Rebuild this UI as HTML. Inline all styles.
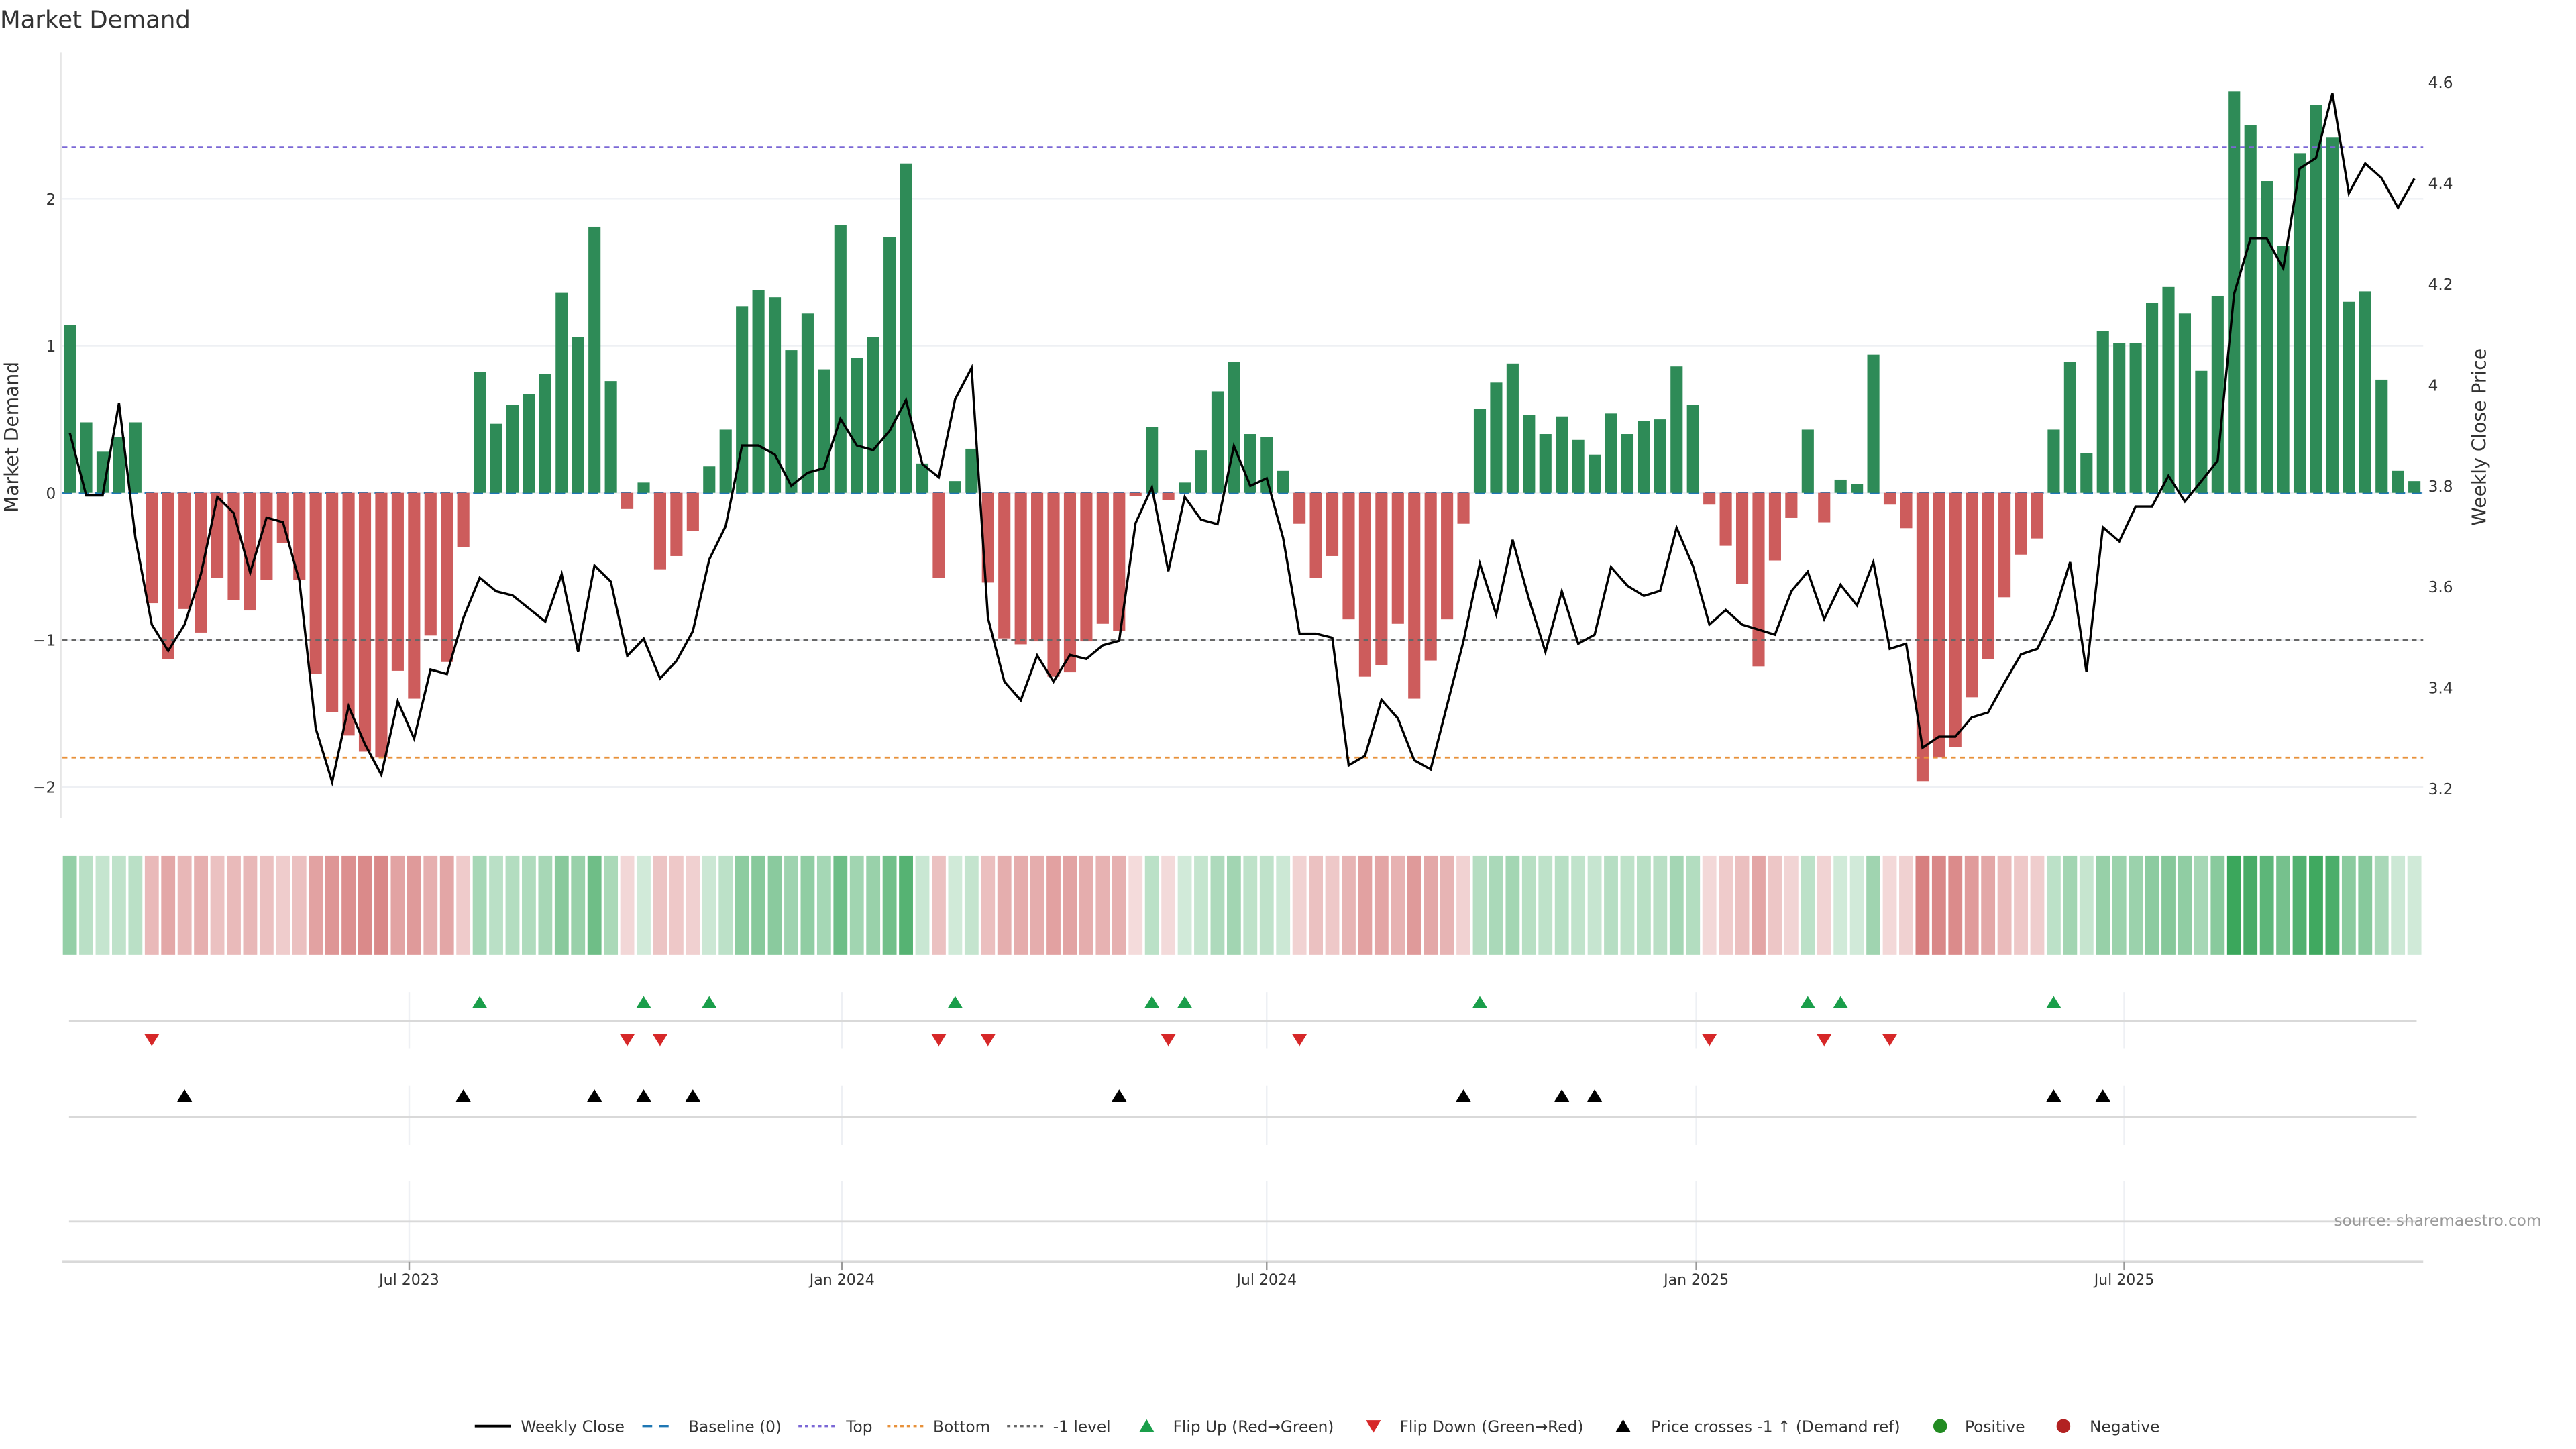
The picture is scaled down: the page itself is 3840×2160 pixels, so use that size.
<!DOCTYPE html>
<html><head><meta charset="utf-8"><title>Market Demand</title>
<style>
html,body{margin:0;padding:0;background:#fff;}
svg{display:block;font-family:"DejaVu Sans","Liberation Sans",sans-serif;}
</style></head>
<body>
<svg id="chart" xmlns="http://www.w3.org/2000/svg" width="3840" height="2160" viewBox="0 0 1568 882">
<rect x="0" y="0" width="1568" height="882" fill="#fff"/>
<text x="0" y="17" font-size="14.5" fill="#333">Market Demand</text>
<g id="main"></g>
<g id="heat"></g>
<g id="markers"></g>
<g id="xaxis"></g>
<text x="1547" y="746" font-size="9.5" fill="#999" text-anchor="end">source: sharemaestro.com</text>
<g id="legend"></g>
</svg>
<script>
const demand = [1.14,0.48,0.28,0.38,0.48,-0.75,-1.13,-0.79,-0.95,-0.58,-0.73,-0.80,-0.59,-0.34,-0.59,-1.23,-1.49,-1.65,-1.76,-1.80,-1.21,-1.40,-0.97,-1.15,-0.37,0.82,0.47,0.60,0.67,0.81,1.36,1.06,1.81,0.76,-0.11,0.07,-0.52,-0.43,-0.26,0.18,0.43,1.27,1.38,1.33,0.97,1.22,0.84,1.82,0.92,1.06,1.74,2.24,0.20,-0.58,0.08,0.30,-0.61,-0.99,-1.03,-1.01,-1.25,-1.22,-1.01,-0.89,-0.94,-0.02,0.45,-0.05,0.07,0.29,0.69,0.89,0.40,0.38,0.15,-0.21,-0.58,-0.43,-0.86,-1.25,-1.17,-0.89,-1.40,-1.14,-0.86,-0.21,0.57,0.75,0.88,0.53,0.40,0.52,0.36,0.26,0.54,0.40,0.49,0.50,0.86,0.60,-0.08,-0.36,-0.62,-1.18,-0.46,-0.17,0.43,-0.20,0.09,0.06,0.94,-0.08,-0.24,-1.96,-1.80,-1.73,-1.39,-1.13,-0.71,-0.42,-0.31,0.43,0.89,0.27,1.10,1.02,1.02,1.29,1.40,1.22,0.83,1.34,2.73,2.50,2.12,1.68,2.31,2.64,2.42,1.30,1.37,0.77,0.15,0.08];
const price = [3.905,3.781,3.781,3.964,3.697,3.525,3.473,3.525,3.626,3.778,3.746,3.628,3.737,3.728,3.612,3.319,3.213,3.363,3.288,3.227,3.373,3.299,3.436,3.427,3.538,3.618,3.591,3.583,3.557,3.531,3.625,3.471,3.642,3.610,3.463,3.497,3.418,3.453,3.512,3.654,3.720,3.880,3.880,3.862,3.800,3.826,3.835,3.933,3.880,3.871,3.909,3.970,3.843,3.817,3.972,4.034,3.538,3.412,3.375,3.464,3.412,3.465,3.457,3.484,3.493,3.726,3.797,3.631,3.778,3.733,3.724,3.879,3.800,3.815,3.697,3.507,3.507,3.499,3.246,3.265,3.376,3.339,3.256,3.238,3.365,3.492,3.646,3.545,3.693,3.575,3.471,3.591,3.487,3.505,3.639,3.602,3.582,3.592,3.717,3.641,3.525,3.554,3.525,3.515,3.505,3.591,3.630,3.536,3.604,3.563,3.649,3.477,3.487,3.281,3.303,3.303,3.341,3.351,3.410,3.466,3.477,3.543,3.649,3.431,3.718,3.690,3.759,3.759,3.820,3.769,3.809,3.850,4.180,4.290,4.290,4.231,4.429,4.450,4.578,4.380,4.439,4.410,4.351,4.409];
const flipUp = [25,35,39,54,66,68,86,106,108,121];
const flipDown = [5,34,36,53,56,67,75,100,107,111];
const priceCross = [7,24,32,35,38,64,85,91,93,121,124];
const demandTicks = [2,1,0,-1,-2];
const priceTicks = [4.6,4.4,4.2,4.0,3.8,3.6,3.4,3.2];
const priceTickLabels = ["4.6","4.4","4.2","4","3.8","3.6","3.4","3.2"];
const refLevels = [2.35,-1.8,-1];
const dateTickIdx = [20.7,47.1,73.0,99.2,125.3];
const dateTickLabels = ["Jul 2023","Jan 2024","Jul 2024","Jan 2025","Jul 2025"];

const NS="http://www.w3.org/2000/svg";
function mk(tag, attrs, parent){const e=document.createElementNS(NS,tag);for(const k in attrs)e.setAttribute(k,attrs[k]);parent.appendChild(e);return e;}
const X = i => 42.5 + 9.98*i;
const YD = v => 300 - 89.5*v;
const YP = p => 480 - (p-3.2)*307.1;
const L=38, R=1475;

const main=document.getElementById('main');
demandTicks.forEach(t=>{
  const g=mk('line',{x1:L,x2:R,y1:YD(t),y2:YD(t),stroke:'#eef0f4','stroke-width':1},main);
  
  
  const tx=mk('text',{x:34,y:YD(t)+3.5,'font-size':9.5,fill:'#333','text-anchor':'end'},main);
  tx.textContent = t<0 ? '\u2212'+Math.abs(t) : String(t);
  
  
});
priceTicks.forEach((t,k)=>{
  const tx=mk('text',{x:1478,y:YP(t)+3.5,'font-size':9.5,fill:'#333'},main);
  tx.textContent=priceTickLabels[k];
  
  
});
const ax=mk('line',{x1:37,x2:37,y1:32,y2:498,stroke:'#e6e6e6','stroke-width':1},main);


let t1=mk('text',{x:0,y:0,'font-size':11.5,fill:'#333','text-anchor':'middle',transform:'translate(11,266) rotate(-90)'},main);
t1.textContent='Market Demand';


let t2=mk('text',{x:0,y:0,'font-size':11.5,fill:'#333','text-anchor':'middle',transform:'translate(1513,266) rotate(-90)'},main);
t2.textContent='Weekly Close Price';


const bl=mk('line',{x1:L,x2:R,y1:YD(0),y2:YD(0),stroke:'#1f77b4','stroke-width':1.2,'stroke-dasharray':'6,4'},main);


demand.forEach((v,i)=>{
  const y0=YD(0), y1=YD(v);
  const b=mk('rect',{x:X(i)-3.7,y:Math.min(y0,y1),width:7.4,height:Math.max(0.6,Math.abs(y1-y0)),fill:v>=0?'#2e8b57':'#cd5c5c'},main);
  
  
});
const refCols=['#7b68d6','#e8913a','#666'];
const refNames=['top-line','bottom-line','minus-one-level-line'];
refLevels.forEach((lv,k)=>{
  const r=mk('line',{x1:L,x2:R,y1:YD(lv),y2:YD(lv),stroke:refCols[k],'stroke-width':1.1,'stroke-dasharray':'3,2.5'},main);
  
  
});
const pl=mk('polyline',{points:price.map((p,i)=>X(i).toFixed(2)+','+YP(p).toFixed(2)).join(' '),fill:'none',stroke:'#000','stroke-width':1.4,'stroke-linejoin':'miter'},main);



const heat=document.getElementById('heat');
demand.forEach((v,i)=>{
  const t=Math.min(Math.abs(v)/2.8,1), a=0.2+0.75*t;
  const base=v>=0?[44,160,80]:[200,80,80];
  const c=base.map(ch=>Math.round(255-a*(255-ch)));
  const r=mk('rect',{x:X(i)-4.25,y:521,width:8.5,height:60,fill:'rgb('+c.join(',')+')'},heat);
  
  
});

const mp=document.getElementById('markers');
dateTickIdx.forEach(d=>{
  [[604,638],[661,697],[719,768]].forEach(s=>{
    const g=mk('line',{x1:X(d),x2:X(d),y1:s[0],y2:s[1],stroke:'#eef0f4','stroke-width':1},mp);
    
    
  });
});
[621.7,679.7,743.5].forEach(y=>{
  const g=mk('line',{x1:42,x2:1471,y1:y,y2:y,stroke:'#d9d9d9','stroke-width':1.2},mp);
  
  
});
function tri(x,y,up,col,name){
  const p = up ? `${x-4.6},${y+3.6} ${x+4.6},${y+3.6} ${x},${y-3.8}` : `${x-4.6},${y-3.6} ${x+4.6},${y-3.6} ${x},${y+3.8}`;
  const t=mk('polygon',{points:p,fill:col},mp);
  
  
}
flipUp.forEach(i=>tri(X(i),610,true,'#1a9e4a','flip-up-marker'));
flipDown.forEach(i=>tri(X(i),633,false,'#d62728','flip-down-marker'));
priceCross.forEach(i=>tri(X(i),667,true,'#000','price-cross-marker'));

const xa=document.getElementById('xaxis');
const axl=mk('line',{x1:L,x2:R,y1:768,y2:768,stroke:'#d9d9d9','stroke-width':1.2},xa);


dateTickIdx.forEach((d,k)=>{
  const tk=mk('line',{x1:X(d),x2:X(d),y1:768,y2:773,stroke:'#999','stroke-width':1},xa);
  
  
  const tx=mk('text',{x:X(d),y:782,'font-size':9,fill:'#333','text-anchor':'middle'},xa);
  tx.textContent=dateTickLabels[k];
  
  
});

const lg=document.getElementById('legend');
const LY=868;
function ltext(x,s){const t=mk('text',{x:x,y:LY+3.5,'font-size':9.5,fill:'#333'},lg);t.textContent=s;}
function lline(x1,x2,col,dash,w,name){const l=mk('line',{x1:x1,x2:x2,y1:LY,y2:LY,stroke:col,'stroke-width':w,'stroke-dasharray':dash},lg);}
lline(289,311,'#000','none',1.6,'legend-weekly-close'); ltext(317,'Weekly Close');
lline(391,411,'#1f77b4','6,4',1.4,'legend-baseline'); ltext(419,'Baseline (0)');
lline(486,508,'#7b68d6','2,2',1.4,'legend-top'); ltext(515,'Top');
lline(540,562,'#e8913a','2,2',1.4,'legend-bottom'); ltext(568,'Bottom');
lline(613,635,'#666','2,2',1.4,'legend-minus-one-level'); ltext(641,'-1 level');
function ltri(x,up,col,name){const p=up?`${x-4.5},${LY+3.5} ${x+4.5},${LY+3.5} ${x},${LY-4}`:`${x-4.5},${LY-3.5} ${x+4.5},${LY-3.5} ${x},${LY+4}`;const t=mk('polygon',{points:p,fill:col},lg);}
ltri(698,true,'#1a9e4a','legend-flip-up'); ltext(714,'Flip Up (Red\u2192Green)');
ltri(836,false,'#d62728','legend-flip-down'); ltext(852,'Flip Down (Green\u2192Red)');
ltri(988,true,'#000','legend-price-cross'); ltext(1005,'Price crosses -1 \u2191 (Demand ref)');
const c1=mk('circle',{cx:1181,cy:LY,r:4.2,fill:'#228b22'},lg);


ltext(1196,'Positive');
const c2=mk('circle',{cx:1256,cy:LY,r:4.2,fill:'#b22222'},lg);


ltext(1272,'Negative');
</script>
</body></html>
